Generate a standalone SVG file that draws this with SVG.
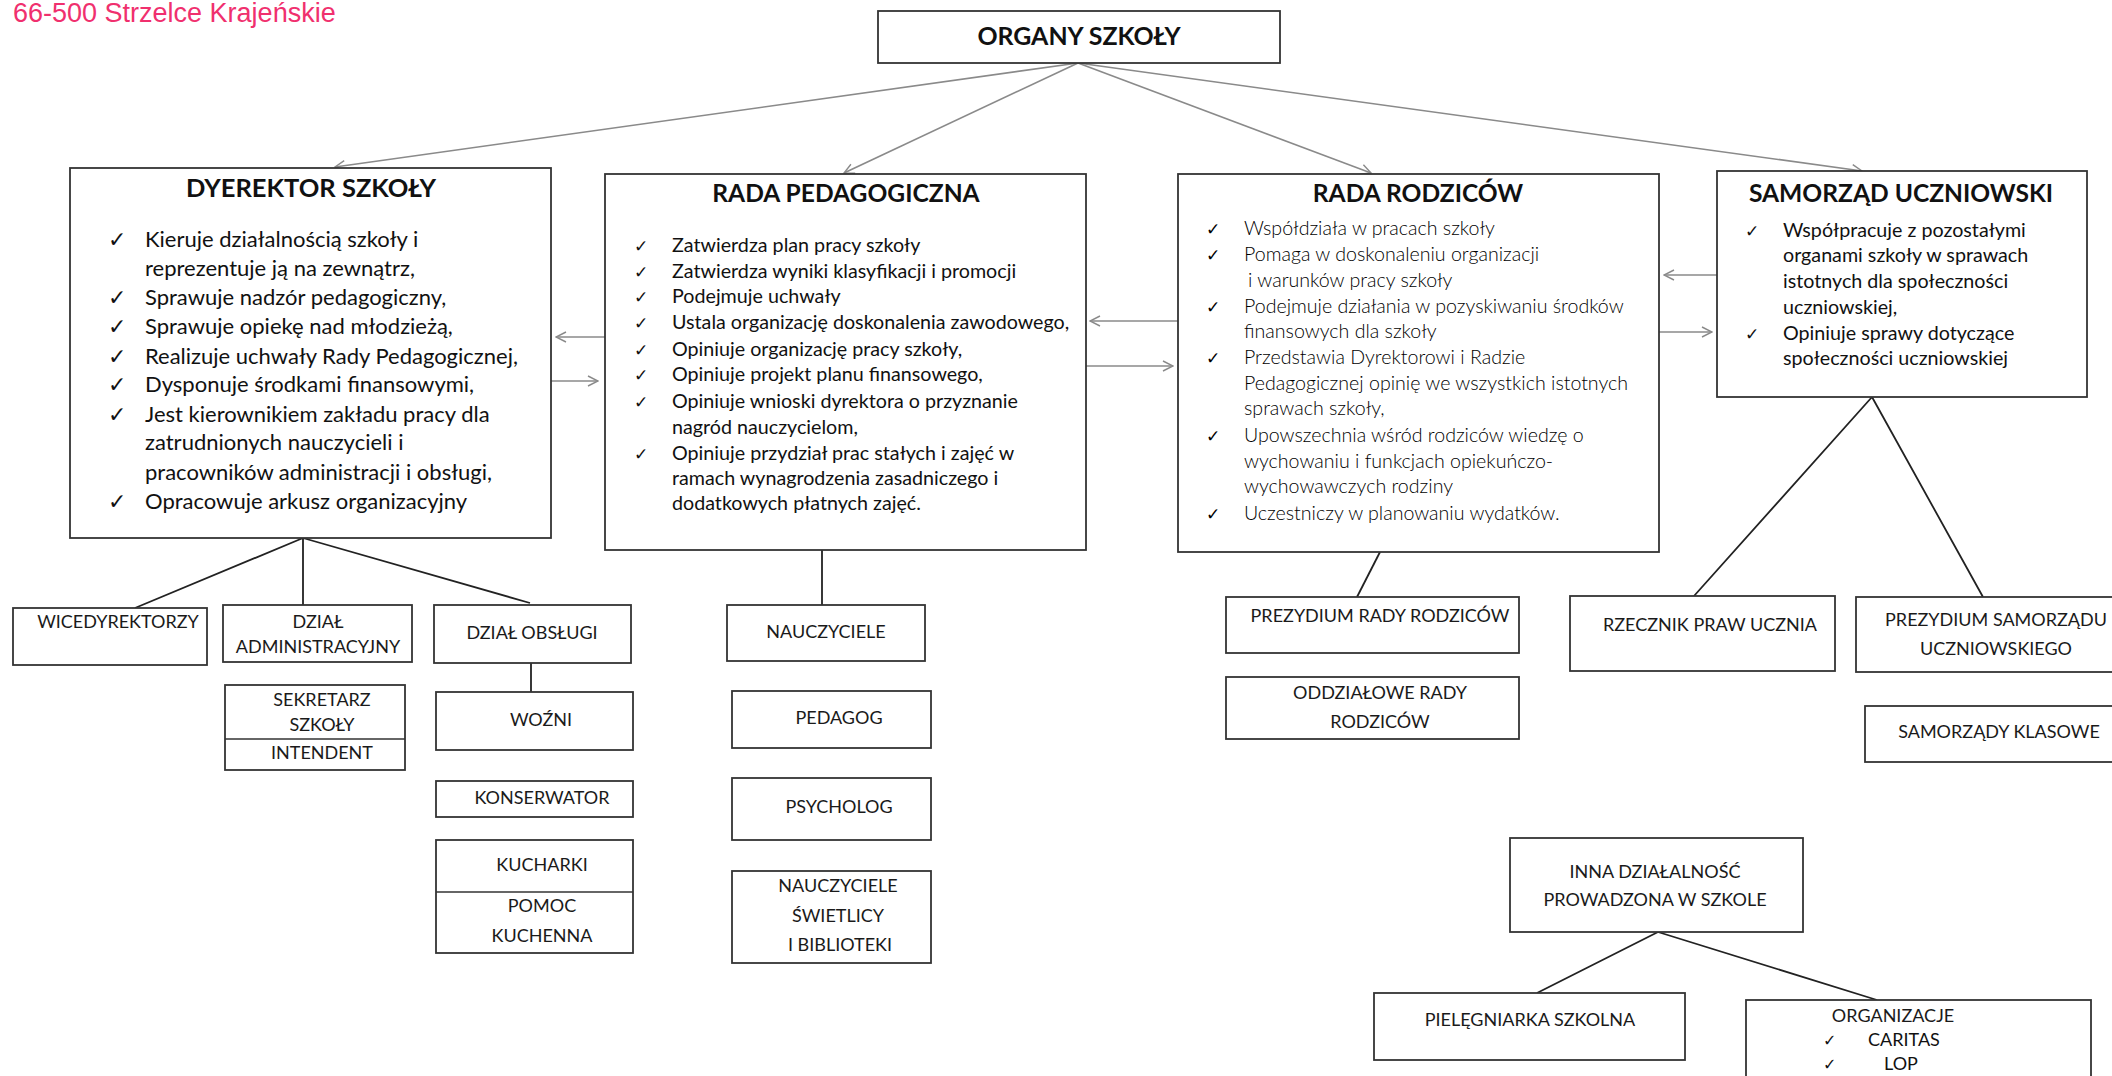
<svg xmlns="http://www.w3.org/2000/svg" width="2112" height="1076" viewBox="0 0 2112 1076">
<style>
.bg{fill:#fff}
.box{fill:#fff;stroke:#333;stroke-width:1.8}
.div{stroke:#333;stroke-width:1.6}
.gc{stroke:#8a8a8a;stroke-width:1.6;fill:none}
.bc{stroke:#222;stroke-width:1.8;fill:none}
text{font-family:Lato,"Open Sans","DejaVu Sans",sans-serif;fill:#111}
.t{font-weight:bold;font-size:24.6px;text-anchor:middle}
.d{font-size:22px}
.p{font-size:19.7px}
.r{font-size:19.6px;font-weight:300}
.r text{fill:#000}
.s{font-size:19.7px}
.l{font-size:18px;text-anchor:middle;fill:#1a1a1a}
.ck{font-family:"DejaVu Sans",sans-serif}
</style>
<defs>
<marker id="ah" viewBox="0 0 12 12" refX="11" refY="6" markerWidth="12" markerHeight="12" markerUnits="userSpaceOnUse" orient="auto">
<path d="M1,1 L11,6 L1,11" fill="none" stroke="#8a8a8a" stroke-width="1.4"/>
</marker>
</defs>
<rect class="bg" x="0" y="0" width="2112" height="1076"/>
<text x="13" y="22" style="font-family:'Liberation Sans',Arial,sans-serif;font-size:27px;fill:#f0306e">66-500 Strzelce Krajeńskie</text>

<g id="connectors">
<line class="gc" x1="1078" y1="63" x2="335" y2="167" marker-end="url(#ah)"/>
<line class="gc" x1="1078" y1="63" x2="844" y2="173" marker-end="url(#ah)"/>
<line class="gc" x1="1078" y1="63" x2="1371" y2="173" marker-end="url(#ah)"/>
<line class="gc" x1="1078" y1="63" x2="1862" y2="171" marker-end="url(#ah)"/>
<line class="gc" x1="605" y1="337" x2="556" y2="337" marker-end="url(#ah)"/>
<line class="gc" x1="551" y1="381" x2="598" y2="381" marker-end="url(#ah)"/>
<line class="gc" x1="1178" y1="321" x2="1090" y2="321" marker-end="url(#ah)"/>
<line class="gc" x1="1086" y1="366" x2="1173" y2="366" marker-end="url(#ah)"/>
<line class="gc" x1="1717" y1="275" x2="1664" y2="275" marker-end="url(#ah)"/>
<line class="gc" x1="1659" y1="332" x2="1712" y2="332" marker-end="url(#ah)"/>
<path class="bc" d="M303,538 L135,608 M303,538 L303,605 M303,538 L530,603"/>
<path class="bc" d="M531,663 L531,692"/>
<path class="bc" d="M822,550 L822,605"/>
<path class="bc" d="M1380,552 L1357,597"/>
<path class="bc" d="M1872,397 L1694,596 M1872,397 L1983,597"/>
<path class="bc" d="M1658,932 L1537,993 M1658,932 L1877,1000"/>
</g>

<g id="organy">
<rect class="box" x="878" y="11" width="402" height="52"/>
<text class="t" x="1079" y="45" style="font-size:24.9px">ORGANY SZKOŁY</text>
</g>

<g id="dyrektor">
<rect class="box" x="70" y="168" width="481" height="370"/>
<text class="t" x="311" y="197" style="font-size:25.5px">DYEREKTOR SZKOŁY</text>
<g class="d">
<text x="108" y="247" class="ck">✓</text><text x="145" y="247">Kieruje działalnością szkoły i</text>
<text x="145" y="276">reprezentuje ją na zewnątrz,</text>
<text x="108" y="305" class="ck">✓</text><text x="145" y="305">Sprawuje nadzór pedagogiczny,</text>
<text x="108" y="334" class="ck">✓</text><text x="145" y="334">Sprawuje opiekę nad młodzieżą,</text>
<text x="108" y="364" class="ck">✓</text><text x="145" y="364">Realizuje uchwały Rady Pedagogicznej,</text>
<text x="108" y="392" class="ck">✓</text><text x="145" y="392">Dysponuje środkami finansowymi,</text>
<text x="108" y="422" class="ck">✓</text><text x="145" y="422">Jest kierownikiem zakładu pracy dla</text>
<text x="145" y="450">zatrudnionych nauczycieli i</text>
<text x="145" y="480">pracowników administracji i obsługi,</text>
<text x="108" y="509" class="ck">✓</text><text x="145" y="509">Opracowuje arkusz organizacyjny</text>
</g>
</g>

<g id="rada-pedagogiczna">
<rect class="box" x="605" y="174" width="481" height="376"/>
<text class="t" x="846" y="202">RADA PEDAGOGICZNA</text>
<g class="p">
<text x="634" y="252" class="ck" style="font-size:17px">✓</text><text x="672" y="252">Zatwierdza plan pracy szkoły</text>
<text x="634" y="278" class="ck" style="font-size:17px">✓</text><text x="672" y="278">Zatwierdza wyniki klasyfikacji i promocji</text>
<text x="634" y="303" class="ck" style="font-size:17px">✓</text><text x="672" y="303">Podejmuje uchwały</text>
<text x="634" y="329" class="ck" style="font-size:17px">✓</text><text x="672" y="329">Ustala organizację doskonalenia zawodowego,</text>
<text x="634" y="356" class="ck" style="font-size:17px">✓</text><text x="672" y="356">Opiniuje organizację pracy szkoły,</text>
<text x="634" y="381" class="ck" style="font-size:17px">✓</text><text x="672" y="381">Opiniuje projekt planu finansowego,</text>
<text x="634" y="408" class="ck" style="font-size:17px">✓</text><text x="672" y="408">Opiniuje wnioski dyrektora o przyznanie</text>
<text x="672" y="434">nagród nauczycielom,</text>
<text x="634" y="460" class="ck" style="font-size:17px">✓</text><text x="672" y="460">Opiniuje przydział prac stałych i zajęć w</text>
<text x="672" y="485">ramach wynagrodzenia zasadniczego i</text>
<text x="672" y="510">dodatkowych płatnych zajęć.</text>
</g>
</g>

<g id="rada-rodzicow">
<rect class="box" x="1178" y="174" width="481" height="378"/>
<text class="t" x="1418" y="202">RADA RODZICÓW</text>
<g class="r">
<text x="1206" y="235" class="ck" style="font-size:17px;font-weight:normal">✓</text><text x="1244" y="235">Współdziała w pracach szkoły</text>
<text x="1206" y="261" class="ck" style="font-size:17px;font-weight:normal">✓</text><text x="1244" y="261">Pomaga w doskonaleniu organizacji</text>
<text x="1248" y="287">i warunków pracy szkoły</text>
<text x="1206" y="313" class="ck" style="font-size:17px;font-weight:normal">✓</text><text x="1244" y="313">Podejmuje działania w pozyskiwaniu środków</text>
<text x="1244" y="338">finansowych dla szkoły</text>
<text x="1206" y="364" class="ck" style="font-size:17px;font-weight:normal">✓</text><text x="1244" y="364">Przedstawia Dyrektorowi i Radzie</text>
<text x="1244" y="390">Pedagogicznej opinię we wszystkich istotnych</text>
<text x="1244" y="415">sprawach szkoły,</text>
<text x="1206" y="442" class="ck" style="font-size:17px;font-weight:normal">✓</text><text x="1244" y="442">Upowszechnia wśród rodziców wiedzę o</text>
<text x="1244" y="468">wychowaniu i funkcjach opiekuńczo-</text>
<text x="1244" y="493">wychowawczych rodziny</text>
<text x="1206" y="520" class="ck" style="font-size:17px;font-weight:normal">✓</text><text x="1244" y="520">Uczestniczy w planowaniu wydatków.</text>
</g>
</g>

<g id="samorzad">
<rect class="box" x="1717" y="171" width="370" height="226"/>
<text class="t" x="1901" y="202">SAMORZĄD UCZNIOWSKI</text>
<g class="s">
<text x="1745" y="237" class="ck" style="font-size:17px">✓</text><text x="1783" y="237">Współpracuje z pozostałymi</text>
<text x="1783" y="262">organami szkoły w sprawach</text>
<text x="1783" y="288">istotnych dla społeczności</text>
<text x="1783" y="314">uczniowskiej,</text>
<text x="1745" y="340" class="ck" style="font-size:17px">✓</text><text x="1783" y="340">Opiniuje sprawy dotyczące</text>
<text x="1783" y="365">społeczności uczniowskiej</text>
</g>
</g>

<g id="wicedyrektorzy">
<rect class="box" x="13" y="608" width="194" height="57"/>
<text class="l" x="118" y="628">WICEDYREKTORZY</text>
</g>
<g id="dzial-administracyjny">
<rect class="box" x="223" y="605" width="189" height="57"/>
<text class="l" x="318" y="628">DZIAŁ</text>
<text class="l" x="318" y="653">ADMINISTRACYJNY</text>
</g>
<g id="dzial-obslugi">
<rect class="box" x="434" y="605" width="197" height="58"/>
<text class="l" x="532" y="639">DZIAŁ OBSŁUGI</text>
</g>
<g id="sekretarz">
<rect class="box" x="225" y="685" width="180" height="85"/>
<line class="div" x1="225" y1="739" x2="405" y2="739"/>
<text class="l" x="322" y="706">SEKRETARZ</text>
<text class="l" x="322" y="731">SZKOŁY</text>
<text class="l" x="322" y="759">INTENDENT</text>
</g>
<g id="wozni">
<rect class="box" x="436" y="692" width="197" height="58"/>
<text class="l" x="541" y="726">WOŹNI</text>
</g>
<g id="konserwator">
<rect class="box" x="436" y="781" width="197" height="36"/>
<text class="l" x="542" y="804">KONSERWATOR</text>
</g>
<g id="kucharki">
<rect class="box" x="436" y="840" width="197" height="113"/>
<line class="div" x1="436" y1="892" x2="633" y2="892"/>
<text class="l" x="542" y="871">KUCHARKI</text>
<text class="l" x="542" y="912">POMOC</text>
<text class="l" x="542" y="942">KUCHENNA</text>
</g>
<g id="nauczyciele">
<rect class="box" x="727" y="605" width="198" height="56"/>
<text class="l" x="826" y="638">NAUCZYCIELE</text>
</g>
<g id="pedagog">
<rect class="box" x="732" y="691" width="199" height="57"/>
<text class="l" x="839" y="724">PEDAGOG</text>
</g>
<g id="psycholog">
<rect class="box" x="732" y="778" width="199" height="62"/>
<text class="l" x="839" y="813">PSYCHOLOG</text>
</g>
<g id="nauczyciele-swietlicy">
<rect class="box" x="732" y="871" width="199" height="92"/>
<text class="l" x="838" y="892">NAUCZYCIELE</text>
<text class="l" x="838" y="922">ŚWIETLICY</text>
<text class="l" x="840" y="951">I BIBLIOTEKI</text>
</g>
<g id="prezydium-rr">
<rect class="box" x="1226" y="597" width="293" height="56"/>
<text class="l" x="1380" y="622">PREZYDIUM RADY RODZICÓW</text>
</g>
<g id="oddzialowe-rr">
<rect class="box" x="1226" y="677" width="293" height="62"/>
<text class="l" x="1380" y="699">ODDZIAŁOWE RADY</text>
<text class="l" x="1380" y="728">RODZICÓW</text>
</g>
<g id="rzecznik">
<rect class="box" x="1570" y="596" width="265" height="75"/>
<text class="l" x="1710" y="631">RZECZNIK PRAW UCZNIA</text>
</g>
<g id="prezydium-su">
<rect class="box" x="1856" y="597" width="280" height="75"/>
<text class="l" x="1996" y="626">PREZYDIUM SAMORZĄDU</text>
<text class="l" x="1996" y="655">UCZNIOWSKIEGO</text>
</g>
<g id="samorzady-klasowe">
<rect class="box" x="1865" y="706" width="270" height="56"/>
<text class="l" x="1999" y="738">SAMORZĄDY KLASOWE</text>
</g>
<g id="inna">
<rect class="box" x="1510" y="838" width="293" height="94"/>
<text class="l" x="1655" y="878">INNA DZIAŁALNOŚĆ</text>
<text class="l" x="1655" y="906">PROWADZONA W SZKOLE</text>
</g>
<g id="pielegniarka">
<rect class="box" x="1374" y="993" width="311" height="67"/>
<text class="l" x="1530" y="1026">PIELĘGNIARKA SZKOLNA</text>
</g>
<g id="organizacje">
<rect class="box" x="1746" y="1000" width="345" height="95"/>
<text class="l" x="1893" y="1022">ORGANIZACJE</text>
<text x="1823" y="1046" class="ck" style="font-size:16px">✓</text><text x="1868" y="1046" style="font-size:18px">CARITAS</text>
<text x="1823" y="1070" class="ck" style="font-size:16px">✓</text><text x="1884" y="1070" style="font-size:18px">LOP</text>
</g>
</svg>
